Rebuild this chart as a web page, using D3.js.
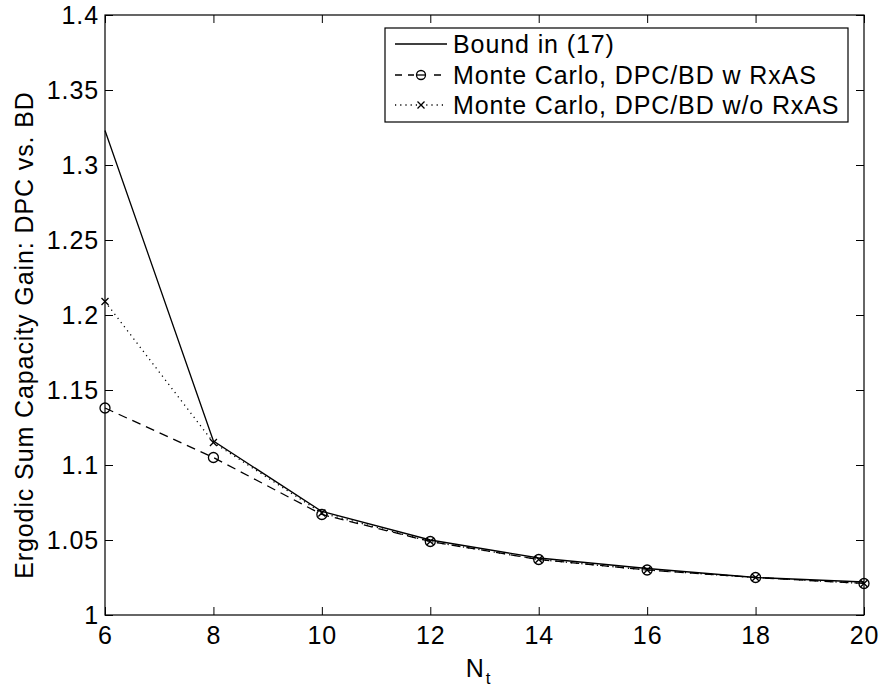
<!DOCTYPE html>
<html><head><meta charset="utf-8">
<script src="https://cdn.jsdelivr.net/npm/d3@7"></script>
<style>
body{margin:0;background:#fff;}
svg text{font-family:"Liberation Sans",Arial,sans-serif;fill:#000;letter-spacing:0.9px;}
</style></head>
<body>
<svg id="c" width="883" height="689"></svg>
<script>
const nt = [6, 8, 10, 12, 14, 16, 18, 20];
const bound = [1.323, 1.116, 1.069, 1.050, 1.038, 1.031, 1.025, 1.022];
const withRxAS = [1.138, 1.105, 1.067, 1.049, 1.037, 1.030, 1.025, 1.021];
const withoutRxAS = [1.209, 1.115, 1.068, 1.049, 1.037, 1.030, 1.025, 1.021];
const xTicks = [6, 8, 10, 12, 14, 16, 18, 20];
const yTicks = [1, 1.05, 1.1, 1.15, 1.2, 1.25, 1.3, 1.35, 1.4];
const yTickLabels = ["1", "1.05", "1.1", "1.15", "1.2", "1.25", "1.3", "1.35", "1.4"];
const legendLabels = ["Bound in (17)", "Monte Carlo, DPC/BD w RxAS", "Monte Carlo, DPC/BD w/o RxAS"];

const L = 105, R = 864, T = 15, B = 615;
const svg = d3.select("#c");
const x = d3.scaleLinear().domain([6, 20]).range([L, R]);
const y = d3.scaleLinear().domain([1, 1.4]).range([B, T]);
const fs = 25;
const tickLen = 8;

const axB = svg.append("g").attr("transform", `translate(0,${B})`)
  .call(d3.axisBottom(x).tickValues(xTicks).tickSize(-tickLen).tickPadding(12).tickFormat(d3.format("d")));
const axT = svg.append("g").attr("transform", `translate(0,${T})`)
  .call(d3.axisTop(x).tickValues(xTicks).tickSize(-tickLen).tickFormat(""));
const axL = svg.append("g").attr("transform", `translate(${L},0)`)
  .call(d3.axisLeft(y).tickValues(yTicks).tickSize(-tickLen).tickPadding(6).tickFormat((d,i)=>yTickLabels[i]));
const axR = svg.append("g").attr("transform", `translate(${R},0)`)
  .call(d3.axisRight(y).tickValues(yTicks).tickSize(-tickLen).tickFormat(""));
[axB, axT, axL, axR].forEach(a => {
  a.select(".domain").remove();
  a.selectAll(".tick line").attr("stroke", "#000").attr("stroke-width", 1);
  a.selectAll("text").attr("font-size", fs).attr("font-family", "Liberation Sans, Arial, sans-serif");
});
axB.selectAll(".tick text").attr("dy", "0.66em");
svg.append("rect").attr("x", L).attr("y", T).attr("width", R - L).attr("height", B - T)
  .attr("fill", "none").attr("stroke", "#000").attr("stroke-width", 1.2);

svg.append("text").attr("x", (L + R) / 2 - 6).attr("y", 677).attr("text-anchor", "middle")
  .attr("font-size", fs).text("N")
  .append("tspan").attr("font-size", 17).attr("dy", 7).attr("dx", 1).text("t");
svg.append("text").attr("transform", `translate(33,335) rotate(-90)`)
  .attr("text-anchor", "middle").attr("font-size", fs)
  .text("Ergodic Sum Capacity Gain: DPC vs. BD");

const line = d3.line().x((d, i) => x(nt[i])).y(d => y(d));
const g = svg.append("g");
g.append("path").datum(bound).attr("d", line).attr("fill", "none").attr("stroke", "#000").attr("stroke-width", 1.3);
g.append("path").datum(withRxAS).attr("d", line).attr("fill", "none").attr("stroke", "#000").attr("stroke-width", 1.3)
  .attr("stroke-dasharray", "9,6");
g.append("path").datum(withoutRxAS).attr("d", line).attr("fill", "none").attr("stroke", "#000").attr("stroke-width", 1.3)
  .attr("stroke-dasharray", "1.2,4");

function circ(sel, cx, cy, r) {
  sel.append("circle").attr("cx", cx).attr("cy", cy).attr("r", r).attr("fill", "none").attr("stroke", "#000").attr("stroke-width", 1.3);
}
function cross(sel, cx, cy, s) {
  sel.append("path").attr("d", `M${cx - s},${cy - s}L${cx + s},${cy + s}M${cx - s},${cy + s}L${cx + s},${cy - s}`)
    .attr("stroke", "#000").attr("stroke-width", 1.3).attr("fill", "none");
}
withRxAS.forEach((v, i) => circ(g, x(nt[i]), y(v), 5));
withoutRxAS.forEach((v, i) => cross(g, x(nt[i]), y(v), 3.5));

const lg = svg.append("g");
const lx = 385, ly = 28, lw = 463, lh = 94;
lg.append("rect").attr("x", lx).attr("y", ly).attr("width", lw).attr("height", lh)
  .attr("fill", "#fff").attr("stroke", "#000").attr("stroke-width", 1.2);
const rowY = [44, 75, 105];
const sx0 = 395, sx1 = 447, sxm = 421, tx = 453;
const styles = [null, "7,6", "1.2,4"];
legendLabels.forEach((lab, i) => {
  const ln = lg.append("line").attr("x1", sx0).attr("x2", sx1).attr("y1", rowY[i]).attr("y2", rowY[i])
    .attr("stroke", "#000").attr("stroke-width", 1.3);
  if (styles[i]) ln.attr("stroke-dasharray", styles[i]);
  if (i === 1) { lg.append("rect").attr("x", sxm - 7).attr("y", rowY[i] - 6).attr("width", 14).attr("height", 12).attr("fill", "#fff"); circ(lg, sxm, rowY[i], 4.5); lg.append("line").attr("x1", sxm - 4.5).attr("x2", sxm + 4.5).attr("y1", rowY[i]).attr("y2", rowY[i]).attr("stroke", "#000").attr("stroke-width", 1.3); }
  if (i === 2) cross(lg, sxm, rowY[i], 3.5);
  lg.append("text").attr("x", tx).attr("y", rowY[i]).attr("dy", "0.36em").attr("font-size", fs).text(lab);
});
</script>
</body></html>
